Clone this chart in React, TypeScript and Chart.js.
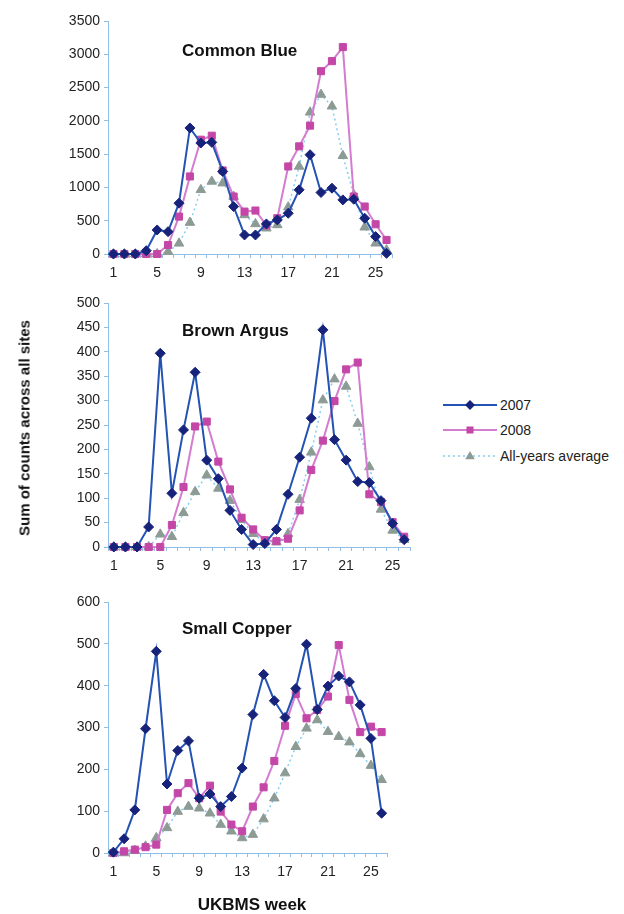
import React, { useEffect, useRef } from "react";
import { Chart, registerables } from "chart.js";

Chart.register(...registerables);

const weeks = ["1","2","3","4","5","6","7","8","9","10","11","12","13","14","15","16","17","18","19","20","21","22","23","24","25","26"];

const commonBlue2007 = [0,0,0,50,361,336,763,1893,1667,1677,1240,713,286,286,452,512,612,964,1491,924,989,813,823,537,261,10];
const commonBlue2008 = [0,0,0,0,0,135,562,1165,1717,1777,1255,863,637,653,430,537,1315,1617,1928,2746,2897,3108,863,713,447,211];
const commonBlueAvg = [0,0,0,0,0,35,160,472,964,1090,1064,863,587,452,387,437,703,1315,2128,2395,2219,1476,889,402,161,60];

const brownArgus2007 = [0,0,0,41,397,110,240,358,178,140,75,36,5,7,36,108,184,264,445,220,178,134,132,95,48,15];
const brownArgus2008 = [0,0,0,0,0,45,123,247,257,175,118,60,36,14,12,17,75,158,218,299,364,378,108,92,51,21];
const brownArgusAvg = [0,0,0,0,26,21,70,113,147,120,95,56,27,10,10,27,97,194,301,344,329,253,164,77,34,15];

const smallCopper2007 = [2,34,103,297,482,165,245,268,131,141,111,135,203,331,427,364,324,393,499,343,399,423,409,354,274,95];
const smallCopper2008 = [0,4,8,14,20,103,143,167,131,161,99,68,52,111,157,220,304,380,322,342,374,497,366,289,302,289];
const smallCopperAvg = [0,0,6,16,36,60,99,111,107,95,68,52,36,44,81,131,191,254,298,318,290,278,265,237,209,175];

const seriesNames = ["2007", "2008", "All-years average"];

const FONT = '"Liberation Sans", Arial, Helvetica, sans-serif';
const AXIS = "#8fbfe6";
const TICK_TEXT = "#222";
const C2007_LINE = "#2453b3";
const C2007_PT = "#17237a";
const C2008_LINE = "#d47ccf";
const C2008_PT = "#c447a8";
const CAVG_LINE = "#86cdf2";
const CAVG_PT = "#8d9b95";

type PanelProps = {
  top: number; width: number; height: number;
  padTop: number; padRight: number; xHeight: number;
  title: string; titleY: number;
  d2007: number[]; d2008: number[]; dAvg: number[];
  yMax: number; yStep: number;
};

function Panel(p: PanelProps) {
  const ref = useRef<HTMLCanvasElement | null>(null);
  useEffect(() => {
    const titlePlugin = {
      id: "panelTitle",
      afterDraw(chart: any) {
        const ctx = chart.ctx;
        ctx.save();
        ctx.font = `bold 17px ${FONT}`;
        ctx.fillStyle = "#111";
        ctx.textBaseline = "middle";
        ctx.textAlign = "left";
        ctx.fillText(p.title, 182, p.titleY);
        ctx.restore();
      },
    };
    const chart = new Chart(ref.current as HTMLCanvasElement, {
      type: "line",
      data: {
        labels: weeks,
        datasets: [
          {
            label: seriesNames[0], data: p.d2007,
            borderColor: C2007_LINE, borderWidth: 2,
            pointStyle: "rectRot", pointRadius: 5,
            pointBackgroundColor: C2007_PT, pointBorderColor: C2007_PT, pointBorderWidth: 1,
            tension: 0, clip: false,
          },
          {
            label: seriesNames[1], data: p.d2008,
            borderColor: C2008_LINE, borderWidth: 2,
            pointStyle: "rect", pointRadius: 5,
            pointBackgroundColor: C2008_PT, pointBorderColor: C2008_PT, pointBorderWidth: 1,
            tension: 0, clip: false,
          },
          {
            label: seriesNames[2], data: p.dAvg,
            borderColor: CAVG_LINE, borderWidth: 1.5, borderDash: [2, 3],
            pointStyle: "triangle", pointRadius: 5.5,
            pointBackgroundColor: CAVG_PT, pointBorderColor: CAVG_PT, pointBorderWidth: 1,
            tension: 0, clip: false,
          },
        ],
      },
      options: {
        animation: false,
        responsive: false,
        maintainAspectRatio: false,
        layout: { padding: { top: p.padTop, right: p.padRight, left: 0, bottom: 0 } },
        plugins: { legend: { display: false }, tooltip: { enabled: false } },
        scales: {
          x: {
            type: "category",
            offset: true,
            grid: { offset: true, drawOnChartArea: false, drawTicks: true, tickLength: 4, color: AXIS },
            border: { color: AXIS, width: 1 },
            ticks: {
              autoSkip: false, maxRotation: 0, minRotation: 0, padding: 7,
              color: TICK_TEXT, font: { family: FONT, size: 14 },
              callback: (_v: any, i: number) => (i % 4 === 0 ? weeks[i] : ""),
            },
            afterFit: (s: any) => { s.height = p.xHeight; },
          },
          y: {
            min: 0, max: p.yMax,
            grid: { drawOnChartArea: false, drawTicks: true, tickLength: 4, color: AXIS },
            border: { color: AXIS, width: 1 },
            ticks: {
              stepSize: p.yStep, padding: 4, color: TICK_TEXT, font: { family: FONT, size: 14 },
              callback: (v: any) => String(v),
            },
            afterFit: (s: any) => { s.width = 108; },
          },
        },
      },
      plugins: [titlePlugin],
    } as any);
    return () => chart.destroy();
  }, []);
  return (
    <canvas
      ref={ref}
      width={p.width}
      height={p.height}
      style={{ position: "absolute", left: 0, top: p.top, width: p.width, height: p.height }}
    />
  );
}

function LegendItem({ y, label, kind }: { y: number; label: string; kind: number }) {
  const line = kind === 0 ? C2007_LINE : kind === 1 ? C2008_LINE : CAVG_LINE;
  const pt = kind === 0 ? C2007_PT : kind === 1 ? C2008_PT : CAVG_PT;
  return (
    <div style={{ position: "absolute", left: 443, top: y - 10, height: 20, width: 180 }}>
      <svg width={56} height={20} style={{ position: "absolute", left: 0, top: 0 }}>
        <line x1={0} y1={10} x2={54} y2={10} stroke={line} strokeWidth={kind === 2 ? 1.5 : 2}
          strokeDasharray={kind === 2 ? "2 3" : undefined} />
        {kind === 0 && <polygon points="27,5 32,10 27,15 22,10" fill={pt} />}
        {kind === 1 && <rect x={23.5} y={6.5} width={7} height={7} fill={pt} />}
        {kind === 2 && <polygon points="27,5 31.8,13.3 22.2,13.3" fill={pt} />}
      </svg>
      <div style={{ position: "absolute", left: 57, top: 0, lineHeight: "20px", fontSize: 14, fontFamily: FONT, color: "#222", whiteSpace: "nowrap" }}>
        {label}
      </div>
    </div>
  );
}

export default function App() {
  return (
    <div style={{ position: "absolute", left: 0, top: 0, width: 624, height: 914, background: "#fff", overflow: "hidden" }}>
      <Panel top={0} width={420} height={295} padTop={21} padRight={28} xHeight={41}
        title="Common Blue" titleY={51}
        d2007={commonBlue2007} d2008={commonBlue2008} dAvg={commonBlueAvg} yMax={3500} yStep={500} />
      <Panel top={285} width={440} height={300} padTop={18} padRight={30} xHeight={38}
        title="Brown Argus" titleY={46}
        d2007={brownArgus2007} d2008={brownArgus2008} dAvg={brownArgusAvg} yMax={500} yStep={50} />
      <Panel top={580} width={400} height={320} padTop={22} padRight={13} xHeight={47}
        title="Small Copper" titleY={49}
        d2007={smallCopper2007} d2008={smallCopper2008} dAvg={smallCopperAvg} yMax={600} yStep={100} />
      <div style={{
        position: "absolute", left: 24, top: 428, transform: "translate(-50%, -50%) rotate(-90deg)",
        fontFamily: FONT, fontWeight: "bold", fontSize: 15, color: "#111", whiteSpace: "nowrap",
      }}>Sum of counts across all sites</div>
      <div style={{
        position: "absolute", left: 252, top: 905, transform: "translate(-50%, -50%)",
        fontFamily: FONT, fontWeight: "bold", fontSize: 17, color: "#111", whiteSpace: "nowrap",
      }}>UKBMS week</div>
      <LegendItem y={405} label={seriesNames[0]} kind={0} />
      <LegendItem y={430} label={seriesNames[1]} kind={1} />
      <LegendItem y={456} label={seriesNames[2]} kind={2} />
    </div>
  );
}
